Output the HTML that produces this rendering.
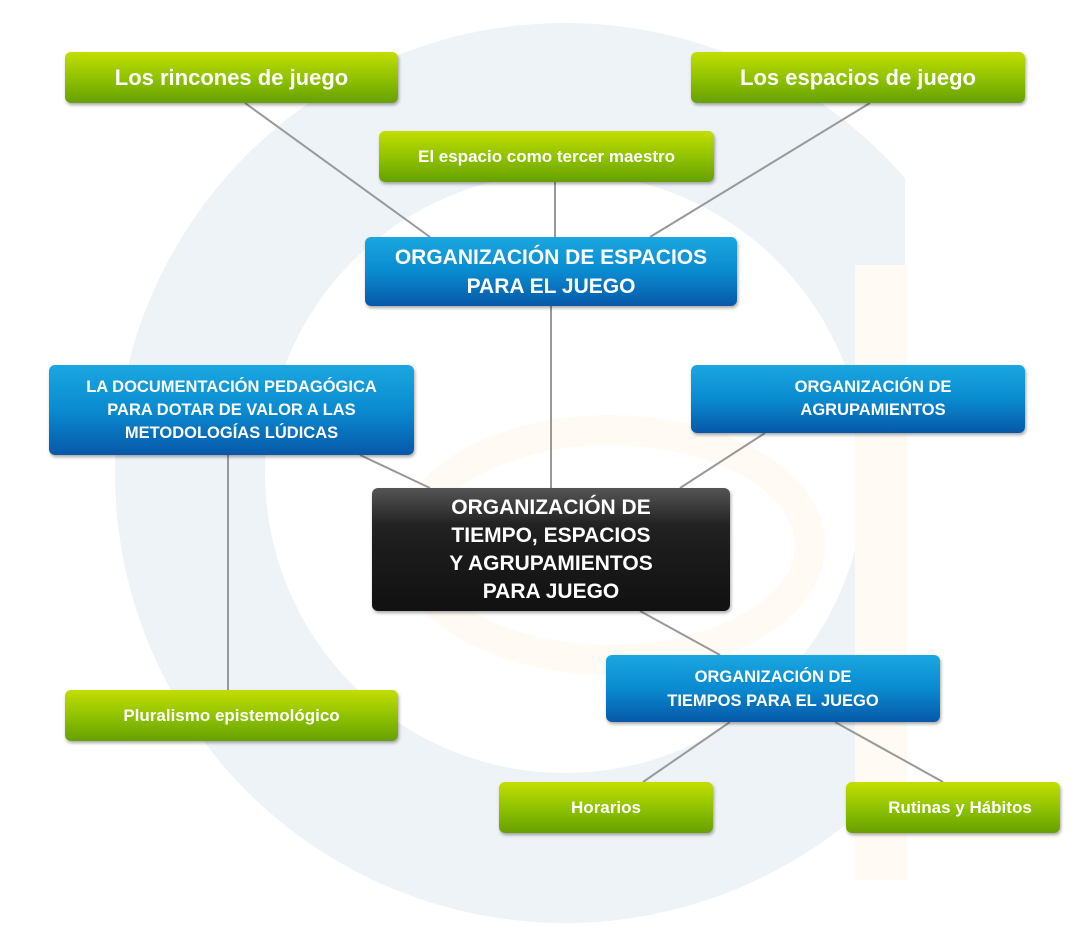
<!DOCTYPE html>
<html><head><meta charset="utf-8"><style>
body{margin:0;width:1092px;height:950px;background:#fff;position:relative;overflow:hidden;font-family:"Liberation Sans","DejaVu Sans",sans-serif;font-weight:bold;}
.b{position:absolute;box-sizing:border-box;border-radius:6px;color:#fff;display:flex;align-items:center;justify-content:center;text-align:center;box-shadow:1px 2px 3px rgba(0,0,0,.35);}
.g{background:linear-gradient(#c3de00,#8cc000 55%,#67a000);}
.bl{background:linear-gradient(#1aa7e0,#0a8bd0 50%,#0658a8);}
.k{background:linear-gradient(#555,#222 30%,#1a1a1a 55%,#111);}
svg{position:absolute;left:0;top:0}
</style></head><body>
<svg width="1092" height="950">
<defs><clipPath id="c"><rect x="0" y="0" width="905" height="950"/></clipPath></defs>
<path clip-path="url(#c)" fill-rule="evenodd" fill="#eef3f8" d="M115 473 A450 450 0 1 0 1015 473 A450 450 0 1 0 115 473 Z M265 473 A300 300 0 1 0 865 473 A300 300 0 1 0 265 473 Z"/>
<ellipse cx="610" cy="545" rx="200" ry="115" fill="none" stroke="#fffaf3" stroke-width="30"/>
<rect x="855" y="265" width="52" height="615" fill="#fffaf3"/>
<g stroke="#999" stroke-width="2">
<line x1="245" y1="103" x2="430" y2="237"/>
<line x1="555" y1="182" x2="555" y2="237"/>
<line x1="870" y1="103" x2="650" y2="237"/>
<line x1="551" y1="306" x2="551" y2="488"/>
<line x1="360" y1="455" x2="430" y2="488"/>
<line x1="765" y1="433" x2="680" y2="488"/>
<line x1="228" y1="455" x2="228" y2="690"/>
<line x1="640" y1="611" x2="720" y2="655"/>
<line x1="730" y1="722" x2="643" y2="782"/>
<line x1="835" y1="722" x2="943" y2="782"/>
</g></svg>
<div class="b g" style="left:65px;top:52px;width:333px;height:51px;font-size:22px">Los rincones de juego</div>
<div class="b g" style="left:691px;top:52px;width:334px;height:51px;font-size:22px">Los espacios de juego</div>
<div class="b g" style="left:379px;top:131px;width:335px;height:51px;font-size:17px">El espacio como tercer maestro</div>
<div class="b bl" style="left:365px;top:237px;width:372px;height:69px;font-size:21px;line-height:29px">ORGANIZACIÓN DE ESPACIOS<br>PARA EL JUEGO</div>
<div class="b bl" style="left:49px;top:365px;width:365px;height:90px;font-size:16.5px;line-height:23px">LA DOCUMENTACIÓN PEDAGÓGICA<br>PARA DOTAR DE VALOR A LAS<br>METODOLOGÍAS LÚDICAS</div>
<div class="b bl" style="left:691px;top:365px;width:334px;height:68px;font-size:16.5px;line-height:23px;padding-left:30px">ORGANIZACIÓN DE<br>AGRUPAMIENTOS</div>
<div class="b k" style="left:372px;top:488px;width:358px;height:123px;font-size:21px;line-height:28px">ORGANIZACIÓN DE<br>TIEMPO, ESPACIOS<br>Y AGRUPAMIENTOS<br>PARA JUEGO</div>
<div class="b bl" style="left:606px;top:655px;width:334px;height:67px;font-size:16.5px;line-height:24px">ORGANIZACIÓN DE<br>TIEMPOS PARA EL JUEGO</div>
<div class="b g" style="left:65px;top:690px;width:333px;height:51px;font-size:17px">Pluralismo epistemológico</div>
<div class="b g" style="left:499px;top:782px;width:214px;height:51px;font-size:17px">Horarios</div>
<div class="b g" style="left:846px;top:782px;width:214px;height:51px;font-size:17px;padding-left:14px">Rutinas y Hábitos</div>
</body></html>
